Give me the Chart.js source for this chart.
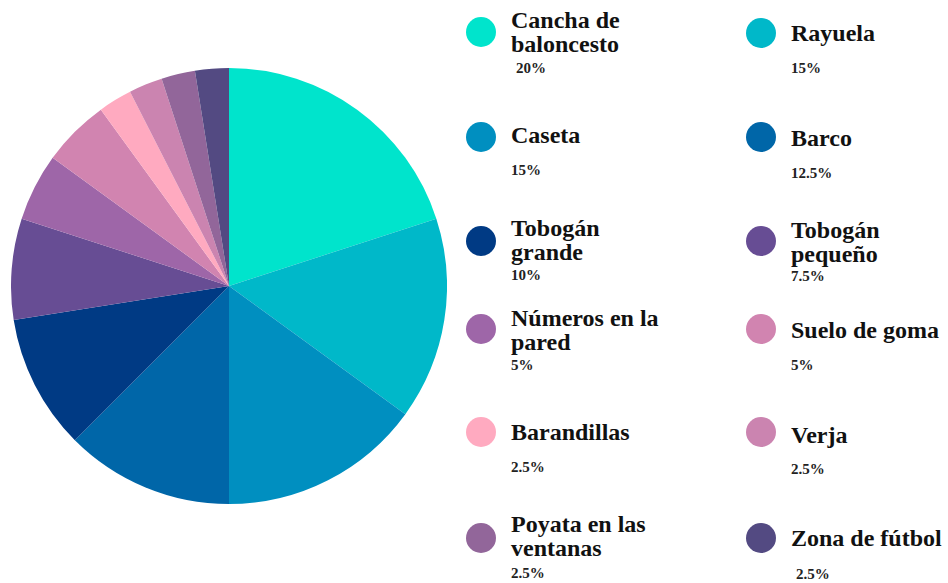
<!DOCTYPE html>
<html>
<head>
<meta charset="utf-8">
<script src="https://cdn.jsdelivr.net/npm/chart.js@4.4.0/dist/chart.umd.min.js"></script>
<style>
    html, body { margin: 0; padding: 0; background: #fff; }
    body { width: 948px; height: 583px; position: relative; overflow: hidden; font-family: "Liberation Serif", "Times New Roman", serif; }
    #pieBox { position: absolute; left: 11px; top: 68px; width: 436px; height: 436px; }
    .dot { position: absolute; width: 30px; height: 30px; border-radius: 50%; }
    .nome { position: absolute; font-weight: bold; font-size: 24px; line-height: 24px; color: #111; white-space: pre; }
    .pct { position: absolute; font-weight: bold; font-size: 15px; line-height: 16px; color: #222; white-space: pre; }
</style>
</head>
<body>
<div id="pieBox"><canvas id="grafico"></canvas></div>
<div id="legenda"></div>
<script>
// Dados
const categorias = [
    'Cancha de\nbaloncesto', 'Rayuela', 'Caseta', 'Barco',
    'Tobogán\ngrande', 'Tobogán\npequeño', 'Números en la\npared', 'Suelo de goma',
    'Barandillas', 'Verja', 'Poyata en las\nventanas', 'Zona de fútbol'
];
const valores = [20, 15, 15, 12.5, 10, 7.5, 5, 5, 2.5, 2.5, 2.5, 2.5];
const cores = [
    '#00e4cc', '#00b8c9', '#008fc0', '#0066a8',
    '#003a84', '#674d94', '#9e66a8', '#d184b0',
    '#ffaac0', '#cb84b0', '#92669a', '#534a82'
];

// Layout da legenda: [yCirculo, baseTexto, basePct, xPct extra]
const layoutLegenda = [
    [32, 27, 73, 5], [33, 40, 73, 0],
    [137, 142, 175, 0], [137, 145, 178, 0],
    [241, 235, 280, 0], [241, 237, 281, 0],
    [329, 325, 370, 0], [329, 337, 370, 0],
    [432, 439, 472, 0], [432, 442, 474, 0],
    [538, 531, 578, 0], [538, 545, 579, 5]
];
const colunasX = [481, 761];

function montarLegenda() {
    const legenda = document.getElementById('legenda');
    categorias.forEach((nome, i) => {
        const [cy, base, basePct, extra] = layoutLegenda[i];
        const cx = colunasX[i % 2];

        const dot = document.createElement('div');
        dot.className = 'dot';
        dot.style.left = (cx - 15) + 'px';
        dot.style.top = (cy - 15) + 'px';
        dot.style.background = cores[i];
        legenda.appendChild(dot);

        const txt = document.createElement('div');
        txt.className = 'nome';
        txt.textContent = nome;
        txt.style.left = (cx + 30) + 'px';
        txt.style.top = (base - 19) + 'px';
        legenda.appendChild(txt);

        const pct = document.createElement('div');
        pct.className = 'pct';
        pct.textContent = valores[i] + '%';
        pct.style.left = (cx + 30 + extra) + 'px';
        pct.style.top = (basePct - 13) + 'px';
        legenda.appendChild(pct);
    });
}

const ctx = document.getElementById('grafico').getContext('2d');
new Chart(ctx, {
    type: 'pie',
    data: {
        labels: categorias.map(c => c.replace('\n', ' ')),
        datasets: [{
            data: valores,
            backgroundColor: cores,
            borderWidth: 0
        }]
    },
    options: {
        responsive: true,
        maintainAspectRatio: false,
        animation: false,
        layout: { padding: 0 },
        plugins: {
            legend: { display: false },
            tooltip: { enabled: false }
        }
    }
});

montarLegenda();
</script>
</body>
</html>
